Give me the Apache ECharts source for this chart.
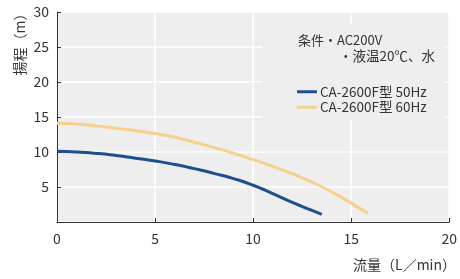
<!DOCTYPE html>
<html><head><meta charset="utf-8">
<script src="https://cdn.jsdelivr.net/npm/echarts@6/dist/echarts.min.js"></script>
<style>html,body{margin:0;padding:0;background:#fff}#c{width:460px;height:279px}</style>
</head><body><div id="c"></div>
<script>
const xTicks = [0, 5, 10, 15, 20];
const yTicks = [5, 10, 15, 20, 25, 30];
const seriesNames = ['CA-2600F型 50Hz', 'CA-2600F型 60Hz'];
const flow50 = [0, 1, 2, 3, 4, 5, 6, 7, 8, 9, 10, 11, 12, 13, 13.5];
const head50 = [10.1, 10.0, 9.8, 9.5, 9.12, 8.72, 8.22, 7.62, 6.95, 6.2, 5.25, 4.05, 2.8, 1.65, 1.1];
const flow60 = [0, 1, 2, 3, 4, 5, 6, 7, 8, 9, 10, 11, 12, 13, 14, 15, 15.85];
const head60 = [14.1, 14.0, 13.72, 13.4, 13.05, 12.65, 12.1, 11.4, 10.65, 9.82, 8.9, 7.95, 6.9, 5.7, 4.3, 2.7, 1.2];
const noteLines = ['条件・AC200V', '・液温20℃、水'];
const yName = '揚程（m）';
const xName = '流量（L／min）';

const font = '"Noto Sans CJK JP", "Noto Sans", sans-serif';
const chart = echarts.init(document.getElementById('c'), null, {renderer: 'canvas'});
const pair = (xs, ys) => xs.map((x, i) => [x, ys[i]]);
chart.setOption({
  animation: false,
  textStyle: {fontFamily: font},
  grid: {left: 57, right: 10, top: 12, bottom: 57, show: true, backgroundColor: '#eeeeee', borderWidth: 0},
  xAxis: {
    type: 'value', min: 0, max: 20, interval: 5,
    axisLine: {show: true, lineStyle: {color: '#333', width: 1}},
    axisTick: {show: true, inside: true, length: 4, lineStyle: {color: '#333'}},
    axisLabel: {color: '#333', fontSize: 14, margin: 10, fontFamily: font,
      formatter: v => xTicks.includes(v) ? String(v) : ''},
    splitLine: {show: true, lineStyle: {color: '#ffffff', width: 1.5}}
  },
  yAxis: {
    type: 'value', min: 0, max: 30, interval: 5,
    axisLine: {show: true, lineStyle: {color: '#333', width: 1}},
    axisTick: {show: true, inside: true, length: 4, lineStyle: {color: '#333'}},
    axisLabel: {color: '#333', fontSize: 14, margin: 8, fontFamily: font,
      formatter: v => yTicks.includes(v) ? String(v) : ''},
    splitLine: {show: true, lineStyle: {color: '#ffffff', width: 1.5}}
  },
  legend: {
    orient: 'vertical', left: 292, top: 80, itemGap: 2,
    icon: 'rect', itemWidth: 20, itemHeight: 3,
    textStyle: {fontSize: 13.5, color: '#333', fontFamily: font, padding: [0, 0, 0, -2]},
    data: seriesNames, z: 10
  },
  graphic: [
    {type: 'rect', z: 1, shape: {x: 262, y: 24, width: 183, height: 96}, style: {fill: '#eeeeee'}, silent: true},
    {type: 'text', z: 10, x: 298, y: 40, style: {text: noteLines[0], font: '13px ' + font, fill: '#333', textVerticalAlign: 'middle'}},
    {type: 'text', z: 10, x: 339, y: 56, style: {text: noteLines[1], font: '13.5px ' + font, fill: '#333', textVerticalAlign: 'middle'}},
    {type: 'text', z: 10, x: 20, y: 41, rotation: Math.PI / 2, style: {text: yName, font: '14px ' + font, fill: '#333', textAlign: 'center', textVerticalAlign: 'middle'}},
    {type: 'text', z: 10, x: 456, y: 265, style: {text: xName, font: '14px ' + font, fill: '#333', textAlign: 'right', textVerticalAlign: 'middle'}}
  ],
  series: [
    {name: seriesNames[0], type: 'line', smooth: 0.6, symbol: 'none', data: pair(flow50, head50), lineStyle: {color: '#1d4f8d', width: 3}, itemStyle: {color: '#1d4f8d'}, z: 3},
    {name: seriesNames[1], type: 'line', smooth: 0.6, symbol: 'none', data: pair(flow60, head60), lineStyle: {color: '#f6d08f', width: 3}, itemStyle: {color: '#f6d08f'}, z: 3}
  ]
});
</script></body></html>
